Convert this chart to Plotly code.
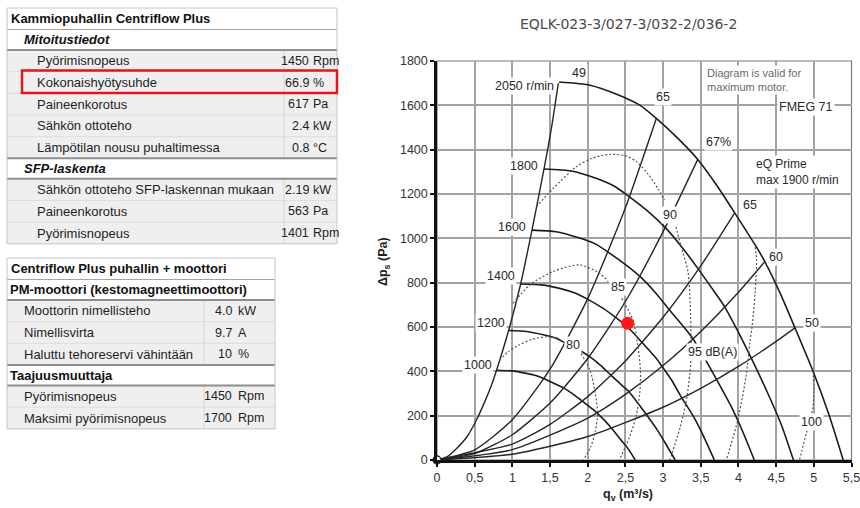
import plotly.graph_objects as go

W, H = 860, 508
FONT = "Liberation Sans, Arial, sans-serif"

# ---------------- table data ----------------
t1_title = "Kammiopuhallin Centriflow Plus"
t1_sec1 = "Mitoitustiedot"
t1_sec1_labels = ["Pyörimisnopeus", "Kokonaishyötysuhde", "Paineenkorotus", "Sähkön ottoteho",
                  "Lämpötilan nousu puhaltimessa"]
t1_sec1_values = ["1450", "66.9", "617", "2.4", "0.8"]
t1_sec1_units = ["Rpm", "%", "Pa", "kW", "°C"]
t1_sec2 = "SFP-laskenta"
t1_sec2_labels = ["Sähkön ottoteho SFP-laskennan mukaan", "Paineenkorotus", "Pyörimisnopeus"]
t1_sec2_values = ["2.19", "563", "1401"]
t1_sec2_units = ["kW", "Pa", "Rpm"]

t2_title = "Centriflow Plus puhallin + moottori"
t2_sec1 = "PM-moottori (kestomagneettimoottori)"
t2_sec1_labels = ["Moottorin nimellisteho", "Nimellisvirta", "Haluttu tehoreservi vähintään"]
t2_sec1_values = ["4.0", "9.7", "10"]
t2_sec1_units = ["kW", "A", "%"]
t2_sec2 = "Taajuusmuuttaja"
t2_sec2_labels = ["Pyörimisnopeus", "Maksimi pyörimisnopeus"]
t2_sec2_values = ["1450", "1700"]
t2_sec2_units = ["Rpm", "Rpm"]

# ---------------- chart data ----------------
chart_title = "EQLK-023-3/027-3/032-2/036-2"

# fan speed curves (q in m3/s, p in Pa)
q2050 = [1.62, 2.03, 2.40, 2.69, 2.91, 3.22, 3.46, 3.70, 3.95, 4.24, 4.35, 4.55, 4.75, 4.99, 5.20, 5.39]
p2050 = [1705, 1691, 1648, 1601, 1541, 1443, 1356, 1245, 1115, 960, 895, 755, 596, 400, 205, 0]
q1800 = [1.42, 1.78, 2.11, 2.36, 2.55, 2.83, 3.04, 3.25, 3.47, 3.72, 3.82, 3.99, 4.17, 4.38, 4.57, 4.73]
p1800 = [1313, 1304, 1271, 1234, 1188, 1113, 1045, 960, 860, 740, 690, 582, 460, 308, 158, 0]
q1600 = [1.26, 1.58, 1.87, 2.10, 2.27, 2.51, 2.70, 2.89, 3.08, 3.31, 3.40, 3.55, 3.71, 3.90, 4.06, 4.21]
p1600 = [1037, 1030, 1004, 975, 938, 879, 826, 758, 679, 585, 545, 460, 363, 244, 125, 0]
q1400 = [1.11, 1.39, 1.64, 1.84, 1.99, 2.20, 2.36, 2.53, 2.70, 2.90, 2.97, 3.11, 3.24, 3.41, 3.55, 3.68]
p1400 = [794, 790, 773, 752, 727, 685, 646, 600, 538, 462, 430, 362, 285, 192, 98, 0]
q1200 = [0.95, 1.19, 1.41, 1.58, 1.70, 1.89, 2.03, 2.17, 2.31, 2.48, 2.55, 2.66, 2.78, 2.92, 3.04, 3.16]
p1200 = [584, 580, 565, 549, 528, 495, 465, 427, 382, 329, 307, 259, 204, 137, 70, 0]
q1000 = [0.79, 0.99, 1.17, 1.31, 1.42, 1.57, 1.69, 1.81, 1.93, 2.07, 2.12, 2.22, 2.32, 2.43, 2.54, 2.63]
p1000 = [405, 402, 392, 381, 367, 343, 323, 296, 265, 228, 213, 180, 142, 95, 49, 0]
speed_labels = ["2050 r/min", "1800", "1600", "1400", "1200", "1000"]
speed_label_q = [1.16, 1.16, 1.00, 0.85, 0.72, 0.55]
speed_label_p = [1687, 1326, 1049, 830, 616, 428]

# efficiency lines (from origin)
q_eff49 = [0, 0.13, 0.26, 0.40, 0.52, 0.63, 0.72, 0.79, 0.95, 1.11, 1.26, 1.42, 1.52, 1.61]
p_eff49 = [0, 14, 52, 106, 178, 260, 335, 405, 584, 794, 1037, 1313, 1500, 1700]
q_eff65a = [0, 0.5, 1.0, 1.5, 2.0, 2.5, 2.91]
p_eff65a = [0, 46, 182, 410, 728, 1138, 1541]
q_eff67 = [0, 0.5, 1.0, 1.5, 2.0, 2.5, 3.0, 3.46]
p_eff67 = [0, 29, 114, 257, 458, 715, 1030, 1356]
q_eff65b = [0, 1.0, 1.5, 2.0, 2.5, 3.0, 3.5, 3.95]
p_eff65b = [0, 72, 161, 286, 447, 644, 876, 1115]
q_eff60 = [0, 1.0, 2.0, 2.5, 3.0, 3.5, 4.0, 4.35]
p_eff60 = [0, 47, 189, 296, 426, 580, 757, 895]
q_eff50 = [0, 1.0, 2.0, 3.0, 3.5, 4.0, 4.5, 4.75]
p_eff50 = [0, 26, 106, 238, 323, 422, 535, 596]
eff_labels = ["49", "65", "67%", "65", "60", "50"]
eff_label_q = [1.89, 3.00, 3.73, 4.15, 4.50, 4.97]
eff_label_p = [1747, 1639, 1436, 1150, 917, 617]

# sound power level contours (dashed)
q80a = [0.83, 0.95, 1.09, 1.25, 1.45, 1.63]
p80a = [451, 490, 519, 543, 556, 548]
q80b = [1.91, 2.03, 2.10, 2.13, 2.10, 2.04, 1.94]
p80b = [481, 406, 300, 210, 130, 60, 0]
q85a = [1.01, 1.23, 1.54, 1.89, 2.16, 2.27]
p85a = [707, 789, 850, 880, 842, 805]
q85b = [2.45, 2.60, 2.66, 2.70, 2.69, 2.64, 2.55, 2.42]
p85b = [729, 631, 527, 400, 301, 195, 100, 0]
q90a = [1.32, 1.54, 1.85, 2.05, 2.29, 2.50, 2.65, 2.80, 2.93, 3.02]
p90a = [1143, 1225, 1323, 1360, 1379, 1372, 1345, 1290, 1225, 1173]
q90b = [3.17, 3.24, 3.33, 3.36, 3.37, 3.37, 3.31, 3.22, 3.09]
p90b = [1052, 962, 850, 700, 560, 451, 271, 140, 0]
q95 = [4.22, 4.24, 4.22, 4.18, 4.15, 4.10, 3.99, 3.84]
p95 = [960, 900, 750, 600, 526, 376, 180, 0]
q100 = [4.99, 5.00, 4.99, 4.95, 4.90, 4.81]
p100 = [400, 320, 240, 180, 120, 0]
snd_labels = ["80", "85", "90", "95 dB(A)", "100"]
snd_label_q = [1.80, 2.40, 3.09, 3.66, 4.97]
snd_label_p = [519, 782, 1105, 489, 173]

op_q = [2.53]
op_p = [617]

x_ticks = [0, 0.5, 1, 1.5, 2, 2.5, 3, 3.5, 4, 4.5, 5, 5.5]
x_ticktext = ["0", "0,5", "1", "1,5", "2", "2,5", "3", "3,5", "4", "4,5", "5", "5,5"]
y_ticks = [0, 200, 400, 600, 800, 1000, 1200, 1400, 1600, 1800]


# ---------------- helpers ----------------
def px(x):
    return x / W


def py(y):
    return 1 - y / H


shapes, annots = [], []


def rect(x0, y0, x1, y1, fill=None, line=None, lw=0):
    d = dict(type="rect", xref="paper", yref="paper", x0=px(x0), x1=px(x1), y0=py(y1), y1=py(y0),
             line=dict(width=lw, color=line or "rgba(0,0,0,0)"))
    if fill:
        d["fillcolor"] = fill
    shapes.append(d)


def hline(x0, x1, y, color, width):
    shapes.append(dict(type="line", xref="paper", yref="paper", x0=px(x0), x1=px(x1), y0=py(y), y1=py(y),
                       line=dict(color=color, width=width)))


def vline(x, y0, y1, color, width):
    shapes.append(dict(type="line", xref="paper", yref="paper", x0=px(x), x1=px(x), y0=py(y0), y1=py(y1),
                       line=dict(color=color, width=width)))


def text(x, y, s, anchor="left", bold=False, italic=False, size=13, color="#1e1e1e"):
    if bold:
        s = "<b>" + s + "</b>"
    if italic:
        s = "<i>" + s + "</i>"
    annots.append(dict(xref="paper", yref="paper", x=px(x), y=py(y), text=s, showarrow=False,
                       xanchor=anchor, yanchor="middle", borderpad=0,
                       font=dict(family=FONT, size=size, color=color)))


def draw_table(top, left, right, vcol, val_r, unit_l, label_x, title, sections, sec_x, sec_italic):
    title_h, sec_h, row_h = 21.5, 20.5, 21.67
    y = top
    lines = []
    text(left + 3, y + title_h / 2, title, bold=True, color="#111")
    y += title_h
    lines.append((y, "#a5a5a5", 1.2))
    for si, (name, labels, values, units) in enumerate(sections):
        text(sec_x, y + sec_h / 2, name, bold=True, italic=sec_italic, color="#111")
        y += sec_h
        lines.append((y, "#8e8e8e", 2))
        n = len(labels)
        rect(left, y, right, y + n * row_h, fill="#efefef")
        for i in range(n):
            cy = y + row_h * (i + 0.5)
            if i > 0:
                hline(left, right, y + row_h * i, "#dddddd", 1)
            text(label_x, cy, labels[i])
            text(val_r, cy, values[i], anchor="right", size=12.5)
            text(unit_l, cy, units[i], size=12.5)
        vline(vcol, y, y + n * row_h, "#d6d6d6", 1)
        y += n * row_h
        if si < len(sections) - 1:
            lines.append((y, "#8e8e8e", 2))
    for (ly, c, w) in lines:
        hline(left, right, ly, c, w)
    rect(left, top, right, y, line="#c4c4c4", lw=1)
    return y


draw_table(8, 7, 337, 284, 310, 312, 36, t1_title,
           [(t1_sec1, t1_sec1_labels, t1_sec1_values, t1_sec1_units),
            (t1_sec2, t1_sec2_labels, t1_sec2_values, t1_sec2_units)],
           sec_x=23, sec_italic=True)
draw_table(258, 7, 275, 204, 233, 237, 23, t2_title,
           [(t2_sec1, t2_sec1_labels, t2_sec1_values, t2_sec1_units),
            (t2_sec2, t2_sec2_labels, t2_sec2_values, t2_sec2_units)],
           sec_x=9, sec_italic=False)

# red highlight box
rect(22, 70.5, 337, 93, line="#e3161d", lw=2.5)

# ---------------- chart ----------------
fig = go.Figure()

DARK = "#1c1c1c"
speed_q = [q2050, q1800, q1600, q1400, q1200, q1000]
speed_p = [p2050, p1800, p1600, p1400, p1200, p1000]
for qq, pp in zip(speed_q, speed_p):
    fig.add_trace(go.Scatter(x=qq, y=pp, mode="lines", line=dict(color=DARK, width=1.6, shape="spline", smoothing=0.6),
                             hoverinfo="skip", showlegend=False))

eff_q = [q_eff49, q_eff65a, q_eff67, q_eff65b, q_eff60, q_eff50]
eff_p = [p_eff49, p_eff65a, p_eff67, p_eff65b, p_eff60, p_eff50]
for qq, pp in zip(eff_q, eff_p):
    fig.add_trace(go.Scatter(x=qq, y=pp, mode="lines", line=dict(color="#262626", width=1.4, shape="spline", smoothing=0.6),
                             hoverinfo="skip", showlegend=False))

snd_q = [q80a, q80b, q85a, q85b, q90a, q90b, q95, q100]
snd_p = [p80a, p80b, p85a, p85b, p90a, p90b, p95, p100]
for qq, pp in zip(snd_q, snd_p):
    fig.add_trace(go.Scatter(x=qq, y=pp, mode="lines",
                             line=dict(color="#555555", width=1.2, dash="2px,2px", shape="spline", smoothing=0.8),
                             hoverinfo="skip", showlegend=False))

# origin marker and operating point
fig.add_trace(go.Scatter(x=[0], y=[0], mode="markers", cliponaxis=False,
                         marker=dict(size=8, color="white", line=dict(color="#222", width=1.3)),
                         hoverinfo="skip", showlegend=False))
fig.add_trace(go.Scatter(x=op_q, y=op_p, mode="markers", cliponaxis=False,
                         marker=dict(size=13, color="#ff1717", line=dict(width=0)),
                         hoverinfo="skip", showlegend=False))

LBL = dict(family=FONT, size=12.5, color="#2a2a2a")
for s, qx, pv in zip(speed_labels + eff_labels + snd_labels,
                     speed_label_q + eff_label_q + snd_label_q,
                     speed_label_p + eff_label_p + snd_label_p):
    annots.append(dict(x=qx, y=pv, xref="x", yref="y", text=s, showarrow=False, bgcolor="white",
                       xanchor="center", yanchor="middle", borderpad=1, font=LBL))

# notes inside the chart
annots.append(dict(xref="paper", yref="paper", x=px(705), y=py(80), xanchor="left", yanchor="middle",
                   text="Diagram is valid for<br>maximum motor.", showarrow=False, align="left",
                   bgcolor="white", font=dict(family=FONT, size=11, color="#6a6a6a")))
annots.append(dict(xref="paper", yref="paper", x=px(806), y=py(107), xanchor="center", yanchor="middle",
                   text="FMEG 71", showarrow=False, bgcolor="white", font=dict(family=FONT, size=12.5, color="#2a2a2a")))
annots.append(dict(xref="paper", yref="paper", x=px(754), y=py(172), xanchor="left", yanchor="middle",
                   text="eQ Prime<br>max 1900 r/min", showarrow=False, align="left", bgcolor="white",
                   font=dict(family=FONT, size=12, color="#2a2a2a")))

# title and axis titles
annots.append(dict(xref="paper", yref="paper", x=px(628), y=py(24), xanchor="center", yanchor="middle",
                   text=chart_title, showarrow=False,
                   font=dict(family="DejaVu Sans, sans-serif", size=14, color="#4a4a4a")))
annots.append(dict(xref="paper", yref="paper", x=px(384), y=py(262), xanchor="center", yanchor="middle",
                   text="<b>Δp<sub>s</sub> (Pa)</b>",
                   showarrow=False, textangle=-90, font=dict(family=FONT, size=12.5, color="#222")))
annots.append(dict(xref="paper", yref="paper", x=px(628), y=py(495), xanchor="center", yanchor="middle",
                   text="<b>q<sub>v</sub> (m³/s)</b>",
                   showarrow=False, font=dict(family=FONT, size=12.5, color="#222")))

# plot frame (top/right thin border)
shapes.append(dict(type="rect", xref="x domain", yref="y domain", x0=0, x1=1, y0=0, y1=1,
                   line=dict(color="#7a7a7a", width=1.2), layer="below"))

fig.update_layout(
    width=W, height=H, autosize=False,
    margin=dict(l=0, r=0, t=0, b=0, pad=0, autoexpand=False),
    paper_bgcolor="white", plot_bgcolor="white",
    shapes=shapes, annotations=annots, showlegend=False,
    xaxis=dict(domain=[437 / W, 851.5 / W], range=[0, 5.5], tickvals=x_ticks, ticktext=x_ticktext,
               showgrid=True, gridcolor="#a3a3a3", gridwidth=1.5, zeroline=False, automargin=False,
               showline=True, linecolor="#111", linewidth=2.5, ticks="outside", ticklen=4,
               tickcolor="#111", tickwidth=1.5, tickfont=dict(family=FONT, size=12.5, color="#333"),
               ticklabeloverflow="allow", fixedrange=True),
    yaxis=dict(domain=[1 - 460 / H, 1 - 61 / H], range=[0, 1800], tickvals=y_ticks,
               showgrid=True, gridcolor="#a3a3a3", gridwidth=1.5, zeroline=False, automargin=False,
               showline=True, linecolor="#111", linewidth=2.5, ticks="outside", ticklen=4,
               tickcolor="#111", tickwidth=1.5, tickfont=dict(family=FONT, size=12.5, color="#333"),
               ticklabeloverflow="allow", fixedrange=True),
)

fig.write_html("out.html", config={"displayModeBar": False},
               post_script="document.body.style.margin='0px';document.body.style.overflow='hidden';")
